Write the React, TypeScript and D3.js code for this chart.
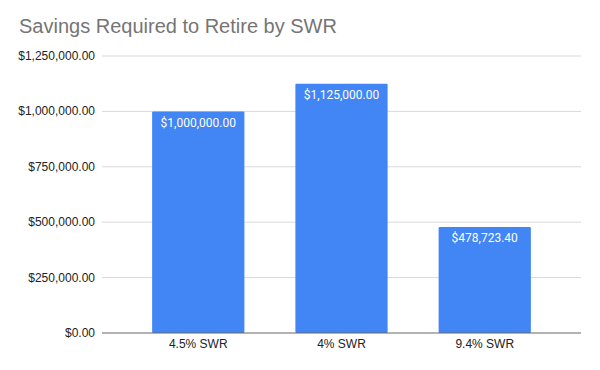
import React from 'react';
import * as d3 from 'd3';

const categories = ['4.5% SWR', '4% SWR', '9.4% SWR'];
const savings = [1000000, 1125000, 478723.4];
const yTicks = [0, 250000, 500000, 750000, 1000000, 1250000];

const money = (v: number) => '$' + d3.format(',.2f')(v);

export default function App() {
  const width = 600,
    height = 370;
  const margin = { top: 56, right: 19, bottom: 37, left: 102 };

  const x = d3
    .scaleBand()
    .domain(categories)
    .range([margin.left, width - margin.right])
    .paddingInner(0.356)
    .paddingOuter(0.35);

  const y = d3
    .scaleLinear()
    .domain([0, 1250000])
    .range([height - margin.bottom, margin.top]);

  const data = categories.map((c, i) => ({ label: c, value: savings[i] }));

  return (
    <svg
      width={width}
      height={height}
      style={{ position: 'absolute', left: 0, top: 0, background: '#fff' }}
      fontFamily="Arial, 'Liberation Sans', sans-serif"
    >
      <text x={19} y={33} fontSize={20} fill="#757575">
        Savings Required to Retire by SWR
      </text>

      {yTicks.map((t) => (
        <g key={t}>
          {t > 0 && (
            <line
              x1={margin.left}
              x2={width - margin.right}
              y1={y(t)}
              y2={y(t)}
              stroke="#d9d9d9"
              strokeWidth={1}
            />
          )}
          <text x={95} y={y(t) + 4} fontSize={12} textAnchor="end" fill="#222">
            {money(t)}
          </text>
        </g>
      ))}

      {data.map((d) => (
        <g key={d.label}>
          <rect
            x={x(d.label)}
            y={y(d.value)}
            width={x.bandwidth()}
            height={y(0) - y(d.value)}
            fill="#4285f4"
            rx={1}
          />
          <text
            x={(x(d.label) as number) + x.bandwidth() / 2}
            y={y(d.value) + 15.5}
            fontSize={12}
            textAnchor="middle"
            fill="#fff"
            fontFamily="Roboto, Arial, sans-serif"
          >
            {money(d.value)}
          </text>
          <text
            x={(x(d.label) as number) + x.bandwidth() / 2}
            y={y(0) + 15}
            fontSize={12}
            textAnchor="middle"
            fill="#222"
          >
            {d.label}
          </text>
        </g>
      ))}

      <line
        x1={margin.left}
        x2={width - margin.right}
        y1={y(0)}
        y2={y(0)}
        stroke="#666"
        strokeWidth={1}
      />
    </svg>
  );
}
